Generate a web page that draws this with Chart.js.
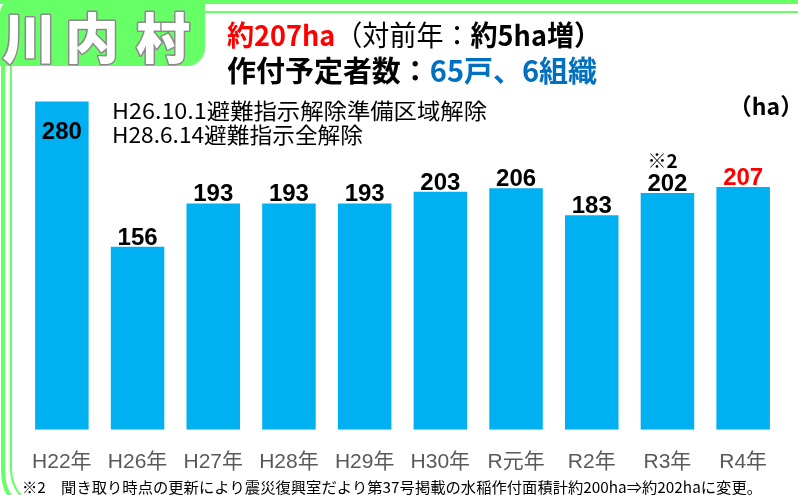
<!DOCTYPE html>
<html>
<head>
<meta charset="utf-8">
<script src="https://cdn.jsdelivr.net/npm/chart.js@4"></script>
<style>
  html, body { margin: 0; padding: 0; background: #fff; overflow: hidden; }
</style>
</head>
<body>
<canvas id="chart" width="798" height="495"></canvas>
<script>
// data (ha)
const years = ['H22年', 'H26年', 'H27年', 'H28年', 'H29年', 'H30年', 'R元年', 'R2年', 'R3年', 'R4年'];
const areas = [280, 156, 193, 193, 193, 203, 206, 183, 202, 207];
const notes = ['', '', '', '', '', '', '', '', '※2', ''];
const yMax = 300;

const headLine1 = [
  { text: '約207ha', weight: 'bold', color: '#FF0000' },
  { text: '（対前年：', weight: 'normal', color: '#000000' },
  { text: '約5ha増）', weight: 'bold', color: '#000000' }
];
const headLine2 = [
  { text: '作付予定者数：', weight: 'bold', color: '#000000' },
  { text: '65戸、6組織', weight: 'bold', color: '#0070C0' }
];
const remarks = ['H26.10.1避難指示解除準備区域解除', 'H28.6.14避難指示全解除'];
const footnote = '※2　聞き取り時点の更新により震災復興室だより第37号掲載の水稲作付面積計約200ha⇒約202haに変更。';

const JP = '"Noto Sans CJK JP", sans-serif';
const GREEN = '#66FF66';

// squeeze / stretch a line of text to a given width
function fitText(ctx, text, x, y, w) {
  const m = ctx.measureText(text).width;
  ctx.save();
  ctx.translate(x, y);
  ctx.scale(w / m, 1);
  ctx.fillText(text, 0, 0);
  ctx.restore();
}

// several coloured runs on one line, scaled to width w
function drawRuns(ctx, runs, size, x, y, w) {
  let total = 0;
  runs.forEach(r => {
    ctx.font = r.weight + ' ' + size + 'px ' + JP;
    r.w = ctx.measureText(r.text).width;
    total += r.w;
  });
  const k = w / total;
  ctx.save();
  ctx.translate(x, y);
  ctx.scale(k, 1);
  let cx = 0;
  runs.forEach(r => {
    ctx.font = r.weight + ' ' + size + 'px ' + JP;
    ctx.fillStyle = r.color;
    ctx.fillText(r.text, cx, 0);
    cx += r.w;
  });
  ctx.restore();
}

const framePlugin = {
  id: 'frame',
  beforeDraw(chart) {
    const ctx = chart.ctx;
    ctx.save();
    ctx.fillStyle = '#fff';
    ctx.fillRect(0, 0, chart.width, chart.height);

    ctx.fillStyle = GREEN;
    ctx.fillRect(0, 0, chart.width, 4);
    ctx.fillRect(200, 11, chart.width - 200, 2);

    ctx.strokeStyle = GREEN;
    ctx.lineWidth = 4;
    ctx.beginPath();
    ctx.moveTo(3, 20);
    ctx.lineTo(3, 468);
    ctx.quadraticCurveTo(3, 490, 12, 498);
    ctx.stroke();
    ctx.lineWidth = 2;
    ctx.beginPath();
    ctx.moveTo(11, 60);
    ctx.lineTo(11, 468);
    ctx.quadraticCurveTo(11, 488, 24, 498);
    ctx.stroke();

    // tab
    ctx.beginPath();
    ctx.moveTo(0, 13);
    ctx.arcTo(0, 0, 13, 0, 13);
    ctx.lineTo(205, 0);
    ctx.lineTo(205, 48);
    ctx.arcTo(205, 66, 187, 66, 18);
    ctx.lineTo(0, 66);
    ctx.closePath();
    ctx.fill();

    // village name
    ctx.font = '900 54px ' + JP;
    ctx.textAlign = 'center';
    ctx.textBaseline = 'middle';
    ctx.lineJoin = 'round';
    ctx.lineWidth = 3;
    ctx.strokeStyle = '#8a8a8a';
    ctx.fillStyle = '#fff';
    [['川', 29], ['内', 92], ['村', 163]].forEach(([ch, x]) => {
      ctx.strokeText(ch, x, 38);
      ctx.fillText(ch, x, 38);
    });
    ctx.restore();
  }
};

const labelPlugin = {
  id: 'valueLabels',
  afterDatasetsDraw(chart) {
    const ctx = chart.ctx;
    const bars = chart.getDatasetMeta(0).data;
    const top = Math.max(...areas);
    ctx.save();
    ctx.textBaseline = 'alphabetic';
    bars.forEach((bar, i) => {
      const txt = String(areas[i]);
      ctx.font = 'bold 24px "Liberation Sans", sans-serif';
      ctx.textAlign = 'center';
      ctx.fillStyle = i === bars.length - 1 ? '#FF0000' : '#000000';
      const y = areas[i] === top ? bar.y + 38 : bar.y - 2;
      ctx.fillText(txt, bar.x, y);
      if (notes[i]) {
        const half = ctx.measureText(txt).width / 2;
        ctx.font = 'bold 19px ' + JP;
        ctx.textAlign = 'left';
        ctx.fillStyle = '#000000';
        ctx.fillText(notes[i], bar.x - half, y - 23);
      }
    });
    ctx.restore();
  }
};

const textPlugin = {
  id: 'texts',
  afterDraw(chart) {
    const ctx = chart.ctx;
    ctx.save();
    ctx.textAlign = 'left';
    ctx.textBaseline = 'middle';
    drawRuns(ctx, headLine1, 28, 227, 35, 374);
    drawRuns(ctx, headLine2, 29, 227, 71, 370);

    ctx.fillStyle = '#000';
    ctx.font = 'normal 22px ' + JP;
    fitText(ctx, remarks[0], 112, 111, 375);
    fitText(ctx, remarks[1], 112, 135, 251);

    ctx.font = 'bold 23px ' + JP;
    ctx.textAlign = 'center';
    ctx.fillText('（ha）', 766, 106);

    ctx.textAlign = 'left';
    ctx.font = 'normal 15px ' + JP;
    fitText(ctx, footnote, 22, 487, 740);
    ctx.restore();
  }
};

new Chart(document.getElementById('chart'), {
  type: 'bar',
  data: {
    labels: years,
    datasets: [{
      data: areas,
      backgroundColor: '#00B0F0',
      borderWidth: 0,
      categoryPercentage: 1,
      barPercentage: 0.707
    }]
  },
  options: {
    responsive: false,
    animation: false,
    events: [],
    layout: { padding: { left: 24, right: 17, top: 78, bottom: 0 } },
    plugins: { legend: { display: false }, tooltip: { enabled: false } },
    scales: {
      x: {
        grid: { display: false, drawTicks: false },
        border: { display: false },
        ticks: {
          padding: 20,
          color: '#595959',
          font: { size: 21, family: '"Liberation Sans", "Noto Sans CJK JP", sans-serif' }
        }
      },
      y: { display: false, min: 0, max: yMax }
    }
  },
  plugins: [framePlugin, labelPlugin, textPlugin]
});
</script>
</body>
</html>
